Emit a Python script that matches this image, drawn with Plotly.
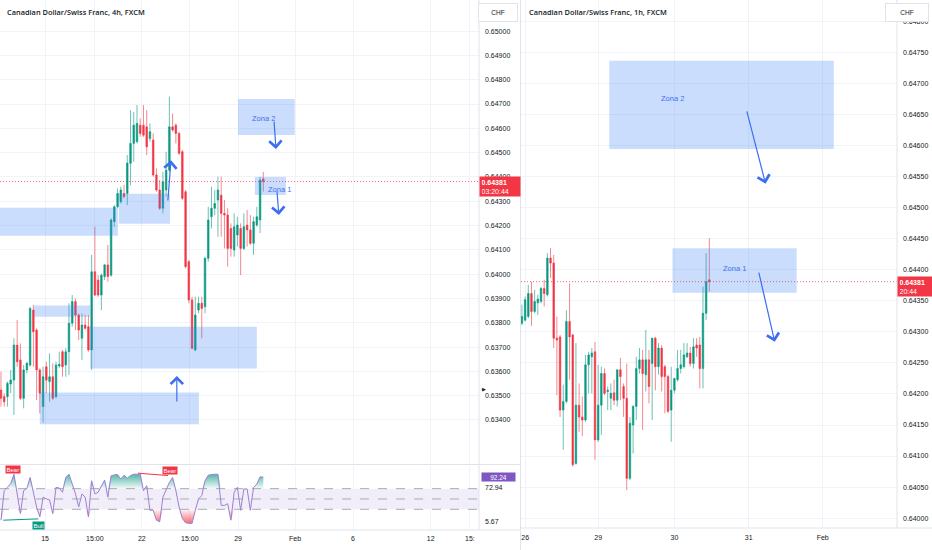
import plotly.graph_objects as go

W, H = 932, 550

# ---- CAD/CHF 4h (left chart), one value per bar ----
l_open = [0.63523, 0.63496, 0.63496, 0.63548, 0.63564, 0.63708, 0.63647, 0.63489, 0.63606, 0.63626,
          0.63852, 0.63770, 0.63606, 0.63455, 0.63619, 0.63558, 0.63578, 0.63496, 0.63622, 0.63681,
          0.63626, 0.63681, 0.63798, 0.63887, 0.63832, 0.63736, 0.63791, 0.63784, 0.63688, 0.64010,
          0.63976, 0.63914, 0.63990, 0.64038, 0.63996, 0.64216, 0.64277, 0.64298, 0.64332, 0.64332,
          0.64456, 0.64538, 0.64545, 0.64613, 0.64613, 0.64606, 0.64558, 0.64552, 0.64408, 0.64346,
          0.64271, 0.64346, 0.64428, 0.64606, 0.64613, 0.64579, 0.64504, 0.64339, 0.64051, 0.63894,
          0.63688, 0.63852, 0.63880, 0.63866, 0.64065, 0.64236, 0.64271, 0.64305, 0.64325, 0.64250,
          0.64243, 0.64188, 0.64099, 0.64161, 0.64188, 0.64106, 0.64202, 0.64182, 0.64127, 0.64202,
          0.64223, 0.64392]
l_high = [0.63599, 0.63510, 0.63558, 0.63606, 0.63736, 0.63811, 0.63715, 0.63626, 0.63640, 0.63866,
          0.63873, 0.63777, 0.63613, 0.63619, 0.63640, 0.63674, 0.63633, 0.63640, 0.63681, 0.63688,
          0.63695, 0.63880, 0.63914, 0.63900, 0.63839, 0.63839, 0.63832, 0.63832, 0.64079, 0.64195,
          0.63996, 0.64003, 0.64042, 0.64120, 0.64229, 0.64284, 0.64353, 0.64360, 0.64367, 0.64490,
          0.64675, 0.64668, 0.64696, 0.64641, 0.64696, 0.64675, 0.64620, 0.64579, 0.64435, 0.64387,
          0.64421, 0.64504, 0.64730, 0.64661, 0.64620, 0.64586, 0.64511, 0.64346, 0.64058, 0.63907,
          0.63907, 0.63907, 0.63907, 0.64072, 0.64277, 0.64360, 0.64346, 0.64401, 0.64401, 0.64305,
          0.64271, 0.64209, 0.64250, 0.64236, 0.64209, 0.64250, 0.64264, 0.64243, 0.64236, 0.64277,
          0.64401, 0.64421]
l_low = [0.63455, 0.63455, 0.63455, 0.63510, 0.63421, 0.63619, 0.63482, 0.63448, 0.63592, 0.63619,
         0.63619, 0.63482, 0.63427, 0.63390, 0.63510, 0.63475, 0.63482, 0.63489, 0.63613, 0.63578,
         0.63578, 0.63585, 0.63784, 0.63770, 0.63729, 0.63647, 0.63773, 0.63681, 0.63606, 0.63910,
         0.63907, 0.63852, 0.63976, 0.63969, 0.63990, 0.64195, 0.64271, 0.64291, 0.64312, 0.64284,
         0.64366, 0.64462, 0.64538, 0.64565, 0.64565, 0.64490, 0.64545, 0.64401, 0.64339, 0.64264,
         0.64250, 0.64319, 0.64421, 0.64586, 0.64538, 0.64490, 0.64305, 0.64024, 0.63880, 0.63690,
         0.63683, 0.63839, 0.63736, 0.63839, 0.64051, 0.64188, 0.64243, 0.64154, 0.64154, 0.64106,
         0.64031, 0.64072, 0.64072, 0.64113, 0.63996, 0.64099, 0.64113, 0.64120, 0.64079, 0.64195,
         0.64169, 0.64340]
l_close = [0.63489, 0.63475, 0.63551, 0.63564, 0.63708, 0.63640, 0.63489, 0.63606, 0.63633, 0.63859,
           0.63763, 0.63606, 0.63510, 0.63578, 0.63564, 0.63578, 0.63489, 0.63626, 0.63629, 0.63619,
           0.63681, 0.63798, 0.63887, 0.63832, 0.63770, 0.63791, 0.63777, 0.63688, 0.64010, 0.63914,
           0.63914, 0.63996, 0.64038, 0.63990, 0.64223, 0.64277, 0.64332, 0.64346, 0.64319, 0.64457,
           0.64538, 0.64613, 0.64620, 0.64579, 0.64572, 0.64524, 0.64586, 0.64408, 0.64346, 0.64271,
           0.64380, 0.64428, 0.64606, 0.64593, 0.64579, 0.64497, 0.64312, 0.64031, 0.63894, 0.63695,
           0.63832, 0.63880, 0.63859, 0.64065, 0.64223, 0.64271, 0.64291, 0.64346, 0.64250, 0.64243,
           0.64106, 0.64106, 0.64195, 0.64202, 0.64106, 0.64195, 0.64182, 0.64127, 0.64216, 0.64236,
           0.64387, 0.64381]

# oscillator under the 4h chart
rsi = [9.0, 66.2, 72.5, 80.1, 97.9, 63.0, 21.7, 66.2, 70.6, 91.6,
       59.8, 34.4, 15.4, 53.5, 50.3, 48.4, 21.7, 72.5, 71.3, 63.0,
       91.6, 97.9, 78.9, 59.8, 34.4, 59.8, 53.5, 15.4, 85.2, 59.8,
       63.0, 75.7, 86.5, 53.5, 94.8, 96.7, 97.3, 88.4, 96.0, 90.3,
       95.4, 97.9, 97.9, 97.9, 66.2, 75.7, 28.1, 28.1, 9.0, 5.9,
       53.5, 69.4, 82.1, 91.6, 66.2, 34.4, 12.2, 4.0, 2.7, 2.7,
       28.1, 50.3, 56.6, 85.2, 96.0, 97.3, 97.9, 97.9, 37.6, 37.6,
       40.8, 9.0, 63.0, 72.5, 28.1, 69.4, 69.4, 28.1, 72.5, 78.9,
       92.8, 92.24]
bear_x, bear_y = [42.3, 51.6], [99.9, 95.3]
bull_x, bull_y = [0.7, 11.5], [9.0, 11.5]

# ---- CAD/CHF 1h (right chart) ----
r_open = [0.64314, 0.64319, 0.64325, 0.64362, 0.64333, 0.64347, 0.64349, 0.64370, 0.64360, 0.64419,
          0.64411, 0.64290, 0.64292, 0.64174, 0.64188, 0.64317, 0.64295, 0.64088, 0.64182, 0.64163,
          0.64158, 0.64247, 0.64260, 0.64268, 0.64126, 0.64182, 0.64233, 0.64204, 0.64193, 0.64202,
          0.64190, 0.64239, 0.64212, 0.64193, 0.64064, 0.64150, 0.64180, 0.64241, 0.64255, 0.64231,
          0.64255, 0.64249, 0.64290, 0.64244, 0.64274, 0.64244, 0.64228, 0.64174, 0.64206, 0.64223,
          0.64241, 0.64244, 0.64260, 0.64266, 0.64249, 0.64279, 0.64279, 0.64241, 0.64330, 0.64384]
r_high = [0.64344, 0.64357, 0.64376, 0.64381, 0.64368, 0.64360, 0.64373, 0.64384, 0.64427, 0.64435,
          0.64424, 0.64325, 0.64295, 0.64215, 0.64335, 0.64378, 0.64297, 0.64282, 0.64217, 0.64196,
          0.64263, 0.64268, 0.64274, 0.64284, 0.64247, 0.64244, 0.64241, 0.64212, 0.64217, 0.64223,
          0.64239, 0.64258, 0.64217, 0.64249, 0.64163, 0.64182, 0.64260, 0.64274, 0.64271, 0.64303,
          0.64271, 0.64290, 0.64292, 0.64282, 0.64279, 0.64247, 0.64231, 0.64244, 0.64223, 0.64271,
          0.64271, 0.64282, 0.64282, 0.64276, 0.64290, 0.64290, 0.64292, 0.64373, 0.64427, 0.64451]
r_low = [0.64311, 0.64317, 0.64322, 0.64310, 0.64330, 0.64327, 0.64346, 0.64341, 0.64357, 0.64387,
         0.64274, 0.64198, 0.64163, 0.64110, 0.64185, 0.64223, 0.64083, 0.64086, 0.64139, 0.64132,
         0.64155, 0.64201, 0.64201, 0.64094, 0.64123, 0.64134, 0.64198, 0.64174, 0.64174, 0.64182,
         0.64180, 0.64190, 0.64163, 0.64045, 0.64061, 0.64104, 0.64158, 0.64233, 0.64142, 0.64204,
         0.64185, 0.64158, 0.64206, 0.64231, 0.64204, 0.64169, 0.64169, 0.64123, 0.64201, 0.64220,
         0.64233, 0.64241, 0.64258, 0.64244, 0.64241, 0.64260, 0.64209, 0.64209, 0.64319, 0.64365]
r_close = [0.64325, 0.64352, 0.64362, 0.64333, 0.64349, 0.64353, 0.64370, 0.64362, 0.64419, 0.64411,
           0.64290, 0.64287, 0.64174, 0.64188, 0.64317, 0.64292, 0.64086, 0.64182, 0.64163, 0.64158,
           0.64247, 0.64263, 0.64266, 0.64126, 0.64182, 0.64233, 0.64201, 0.64206, 0.64201, 0.64190,
           0.64239, 0.64228, 0.64193, 0.64064, 0.64153, 0.64180, 0.64241, 0.64255, 0.64233, 0.64255,
           0.64212, 0.64290, 0.64244, 0.64274, 0.64228, 0.64228, 0.64172, 0.64206, 0.64225, 0.64241,
           0.64247, 0.64263, 0.64266, 0.64249, 0.64276, 0.64274, 0.64241, 0.64330, 0.64381, 0.64381]

last_price = 0.64381

l_tickvals = [13.6, 29.0, 43.5, 58.3, 73.2, 90.8, 108.7, 132.7, 144.8]
l_ticktext = ["15", "15:00", "22", "15:00", "29", "Feb", "6", "12", "15:"]
r_tickvals = [1.0, 24, 48, 71.4, 94.7]
r_ticktext = ["26", "29", "30", "31", "Feb"]
l_price_ticks = [0.634, 0.635, 0.636, 0.637, 0.638, 0.639, 0.640, 0.641, 0.642,
                 0.643, 0.644, 0.645, 0.646, 0.647, 0.648, 0.649, 0.650]
r_price_ticks = [0.6400, 0.6405, 0.6410, 0.6415, 0.6420, 0.6425, 0.6430, 0.6435, 0.6440,
                 0.6445, 0.6450, 0.6455, 0.6460, 0.6465, 0.6470, 0.6475, 0.6480]
rsi_ticks = [72.94, 5.67]

# drawn zones: x0, x1, low, high
l_zones = [(-1, 36.1, 0.64158, 0.64273), (36.4, 52.2, 0.64207, 0.64331),
           (73.2, 90.7, 0.64573, 0.64721), (78.4, 88.0, 0.64326, 0.64400),
           (10.2, 27.5, 0.63825, 0.63871), (27.5, 79.0, 0.63612, 0.63784),
           (12.0, 61.1, 0.63382, 0.63513)]
r_zones = [(27.5, 98.2, 0.64595, 0.64737), (47.4, 86.5, 0.64363, 0.64435)]
# drawn arrows: x tail, y tail, x head, y head
l_arrows = [(54.3, 0.63470, 54.3, 0.63581), (51.5, 0.64297, 52.5, 0.64469),
            (84.3, 0.64634, 84.9, 0.64515), (85.2, 0.64346, 85.8, 0.64243)]
r_arrows = [(70.7, 0.64658, 76.7, 0.64539), (74.5, 0.64398, 79.6, 0.64284)]
# zone labels: x, y, text
l_labels = [(81.2, 0.64642, "Zona 2"), (86.1, 0.64350, "Zona 1")]
r_labels = [(47.4, 0.64676, "Zona 2"), (66.9, 0.64403, "Zona 1")]

GREEN, RED = "#089981", "#f23645"
BLUE = "#3d6ef2"
GRID = "#f0f3fa"
BORDER = "#e0e3eb"
TXT = "#131722"
FONT = "Liberation Sans"


def px(x):
    return x / W


def py(y):
    return 1 - y / H


fig = go.Figure()

candle_style = dict(
    increasing=dict(line=dict(color="rgba(8,153,129,0.6)", width=1), fillcolor=GREEN),
    decreasing=dict(line=dict(color="rgba(242,54,69,0.6)", width=1), fillcolor=RED),
    whiskerwidth=0, showlegend=False, hoverinfo="skip",
)
fig.add_trace(go.Candlestick(x=list(range(len(l_open))), open=l_open, high=l_high,
                             low=l_low, close=l_close, xaxis="x", yaxis="y", **candle_style))
fig.add_trace(go.Candlestick(x=list(range(len(r_open))), open=r_open, high=r_high,
                             low=r_low, close=r_close, xaxis="x3", yaxis="y3", **candle_style))

# oscillator fills and line
idx = list(range(len(rsi)))
fig.add_trace(go.Scatter(x=idx, y=[70] * len(rsi), mode="lines", line=dict(width=0),
                         xaxis="x2", yaxis="y2", showlegend=False, hoverinfo="skip"))
fig.add_trace(go.Scatter(x=idx, y=[max(v, 70) for v in rsi], mode="lines", line=dict(width=0),
                         fill="tonexty",
                         fillgradient=dict(type="vertical", start=70, stop=100,
                                           colorscale=[[0, "rgba(8,153,129,0.05)"],
                                                       [1, "rgba(8,153,129,0.75)"]]),
                         xaxis="x2", yaxis="y2", showlegend=False, hoverinfo="skip"))
fig.add_trace(go.Scatter(x=idx, y=[30] * len(rsi), mode="lines", line=dict(width=0),
                         xaxis="x2", yaxis="y2", showlegend=False, hoverinfo="skip"))
fig.add_trace(go.Scatter(x=idx, y=[min(v, 30) for v in rsi], mode="lines", line=dict(width=0),
                         fill="tonexty",
                         fillgradient=dict(type="vertical", start=0, stop=30,
                                           colorscale=[[0, "rgba(242,54,69,0.8)"],
                                                       [1, "rgba(242,54,69,0.05)"]]),
                         xaxis="x2", yaxis="y2", showlegend=False, hoverinfo="skip"))
fig.add_trace(go.Scatter(x=idx, y=rsi, mode="lines", line=dict(color="#9c80d4", width=1),
                         xaxis="x2", yaxis="y2", showlegend=False, hoverinfo="skip"))
fig.add_trace(go.Scatter(x=bear_x, y=bear_y, mode="lines", line=dict(color=RED, width=1),
                         xaxis="x2", yaxis="y2", showlegend=False, hoverinfo="skip"))
fig.add_trace(go.Scatter(x=bull_x, y=bull_y, mode="lines", line=dict(color=GREEN, width=1),
                         xaxis="x2", yaxis="y2", showlegend=False, hoverinfo="skip"))

shapes = []
# oscillator band and levels
shapes.append(dict(type="rect", xref="x2 domain", yref="y2", x0=0, x1=1, y0=30, y1=70,
                   fillcolor="rgba(126,87,194,0.1)", line_width=0, layer="below"))
for lvl in (70, 50, 30):
    shapes.append(dict(type="line", xref="x2 domain", yref="y2", x0=0, x1=1, y0=lvl, y1=lvl,
                       line=dict(color="#9598a1", width=0.8, dash="dash")))
# zones
for x0, x1, lo, hi in l_zones:
    shapes.append(dict(type="rect", xref="x", yref="y", x0=x0, x1=x1, y0=lo, y1=hi,
                       fillcolor="rgba(66,133,244,0.28)", line_width=0))
for x0, x1, lo, hi in r_zones:
    shapes.append(dict(type="rect", xref="x3", yref="y3", x0=x0, x1=x1, y0=lo, y1=hi,
                       fillcolor="rgba(66,133,244,0.28)", line_width=0))
# last price lines
for xr, yr in (("x domain", "y"), ("x3 domain", "y3")):
    shapes.append(dict(type="line", xref=xr, yref=yr, x0=0, x1=1, y0=last_price, y1=last_price,
                       line=dict(color="rgba(242,54,69,0.75)", width=1, dash="1px,2px")))
# pane borders
for x0, y0, x1, y1 in ((0, 464.5, 520, 464.5), (0, 530, 520, 530), (521, 528, W, 528),
                       (520.5, 0, 520.5, H), (479, 0, 479, 530), (897, 0, 897, 528)):
    shapes.append(dict(type="line", xref="paper", yref="paper", x0=px(x0), x1=px(x1),
                       y0=py(y0), y1=py(y1), line=dict(color=BORDER, width=1)))

ann = []
for x_t, y_t, x_h, y_h in l_arrows:
    ann.append(dict(x=x_h, y=y_h, ax=x_t, ay=y_t, xref="x", yref="y", axref="x", ayref="y",
                    text="", showarrow=True, arrowhead=4, arrowsize=2, arrowwidth=1.2,
                    arrowcolor=BLUE))
for x_t, y_t, x_h, y_h in r_arrows:
    ann.append(dict(x=x_h, y=y_h, ax=x_t, ay=y_t, xref="x3", yref="y3", axref="x3", ayref="y3",
                    text="", showarrow=True, arrowhead=4, arrowsize=2, arrowwidth=1.2,
                    arrowcolor=BLUE))
for x, y, t in l_labels:
    ann.append(dict(x=x, y=y, xref="x", yref="y", text=t, showarrow=False,
                    xanchor="center", yanchor="middle",
                    font=dict(color=BLUE, size=7.5, family=FONT)))
for x, y, t in r_labels:
    ann.append(dict(x=x, y=y, xref="x3", yref="y3", text=t, showarrow=False,
                    xanchor="center", yanchor="middle",
                    font=dict(color=BLUE, size=7.5, family=FONT)))

# chart titles
for x0, t in ((5, "Canadian Dollar/Swiss Franc, 4h, FXCM"), (527, "Canadian Dollar/Swiss Franc, 1h, FXCM")):
    ann.append(dict(x=px(x0), y=py(12), xref="paper", yref="paper", xanchor="left",
                    yanchor="middle", text=t, showarrow=False,
                    font=dict(color=TXT, size=7.4, family="Open Sans", weight=600)))
# currency boxes
for xc, wd in ((498, 36), (907, 40)):
    ann.append(dict(x=px(xc), y=py(12.5), xref="paper", yref="paper", text="CHF",
                    xanchor="center", yanchor="middle",
                    showarrow=False, bgcolor="white", bordercolor=BORDER, borderwidth=1,
                    width=wd, height=15, font=dict(color=TXT, size=6.5, family=FONT)))
# last price tags (first line sits on the price, countdown below)
ann.append(dict(x=px(479), y=last_price, xref="paper", yref="y", xanchor="left",
                yanchor="top", yshift=5.5, text="<b>0.64381</b><br>03:20:44", showarrow=False,
                bgcolor=RED, align="left", width=37, borderpad=1.5,
                font=dict(color="white", size=7, family=FONT)))
ann.append(dict(x=px(897), y=last_price, xref="paper", yref="y3", xanchor="left",
                yanchor="top", yshift=5.5, text="<b>0.64381</b><br>20:44", showarrow=False,
                bgcolor=RED, align="left", width=32, borderpad=1.5,
                font=dict(color="white", size=7, family=FONT)))
ann.append(dict(x=px(481), y=rsi[-1], xref="paper", yref="y2", xanchor="left",
                yanchor="middle", text="92.24", showarrow=False, bgcolor="#7e57c2",
                width=32, borderpad=0.5, font=dict(color="white", size=6.5, family=FONT)))
ann.append(dict(x=px(480), y=py(389), xref="paper", yref="paper", xanchor="left",
                yanchor="middle", text="▶", showarrow=False, font=dict(color=TXT, size=5)))
# divergence tags
for x, y, t, c in ((3.7, 108, "Bear", RED), (52.2, 105, "Bear", RED), (11.7, -0.5, "Bull", GREEN)):
    ann.append(dict(x=x, y=y, xref="x2", yref="y2", text=t, showarrow=False, bgcolor=c,
                    xanchor="center", yanchor="middle", borderpad=0.5,
                    font=dict(color="white", size=6, family=FONT)))

tickfont = dict(color=TXT, size=7, family=FONT)
xcommon = dict(showgrid=True, gridcolor=GRID, zeroline=False, showline=False,
               ticks="", tickfont=tickfont, rangeslider=dict(visible=False))
ycommon = dict(side="right", showgrid=True, gridcolor=GRID, zeroline=False, showline=False,
               ticks="", tickfont=tickfont, ticklabelstandoff=5)

fig.update_layout(
    width=W, height=H,
    margin=dict(l=0, r=0, t=0, b=0),
    paper_bgcolor="white", plot_bgcolor="white",
    hovermode=False, showlegend=False,
    xaxis=dict(domain=[0, px(479)], range=[-0.3, 147.6], anchor="y",
               tickvals=l_tickvals, showticklabels=False, **xcommon),
    xaxis2=dict(domain=[0, px(479)], range=[-0.3, 147.6], anchor="y2",
                tickvals=l_tickvals, ticktext=l_ticktext, ticklabelstandoff=3, **xcommon),
    xaxis3=dict(domain=[px(521), px(897)], range=[-0.3, 118.1], anchor="y3",
                tickvals=r_tickvals, ticktext=r_ticktext, ticklabelstandoff=4, **xcommon),
    yaxis=dict(domain=[py(463), 1], range=[0.63223, 0.65128], anchor="x",
               tickvals=l_price_ticks, tickformat=".5f", **ycommon),
    yaxis2=dict(domain=[py(530), py(466)], range=[-10, 113.8], anchor="x2",
                tickvals=rsi_ticks, ticktext=[f"{v:.2f}" for v in rsi_ticks],
                **{**ycommon, "showgrid": False}),
    yaxis3=dict(domain=[py(528), 1], range=[0.63984, 0.64835], anchor="x3",
                tickvals=r_price_ticks, tickformat=".5f", **ycommon),
    shapes=shapes,
    annotations=ann,
)

# the page body has an 8px default margin; drop it so the chart fills the window
fig.write_html("out.html", config={"displayModeBar": False},
               post_script="document.body.style.margin='0';")
